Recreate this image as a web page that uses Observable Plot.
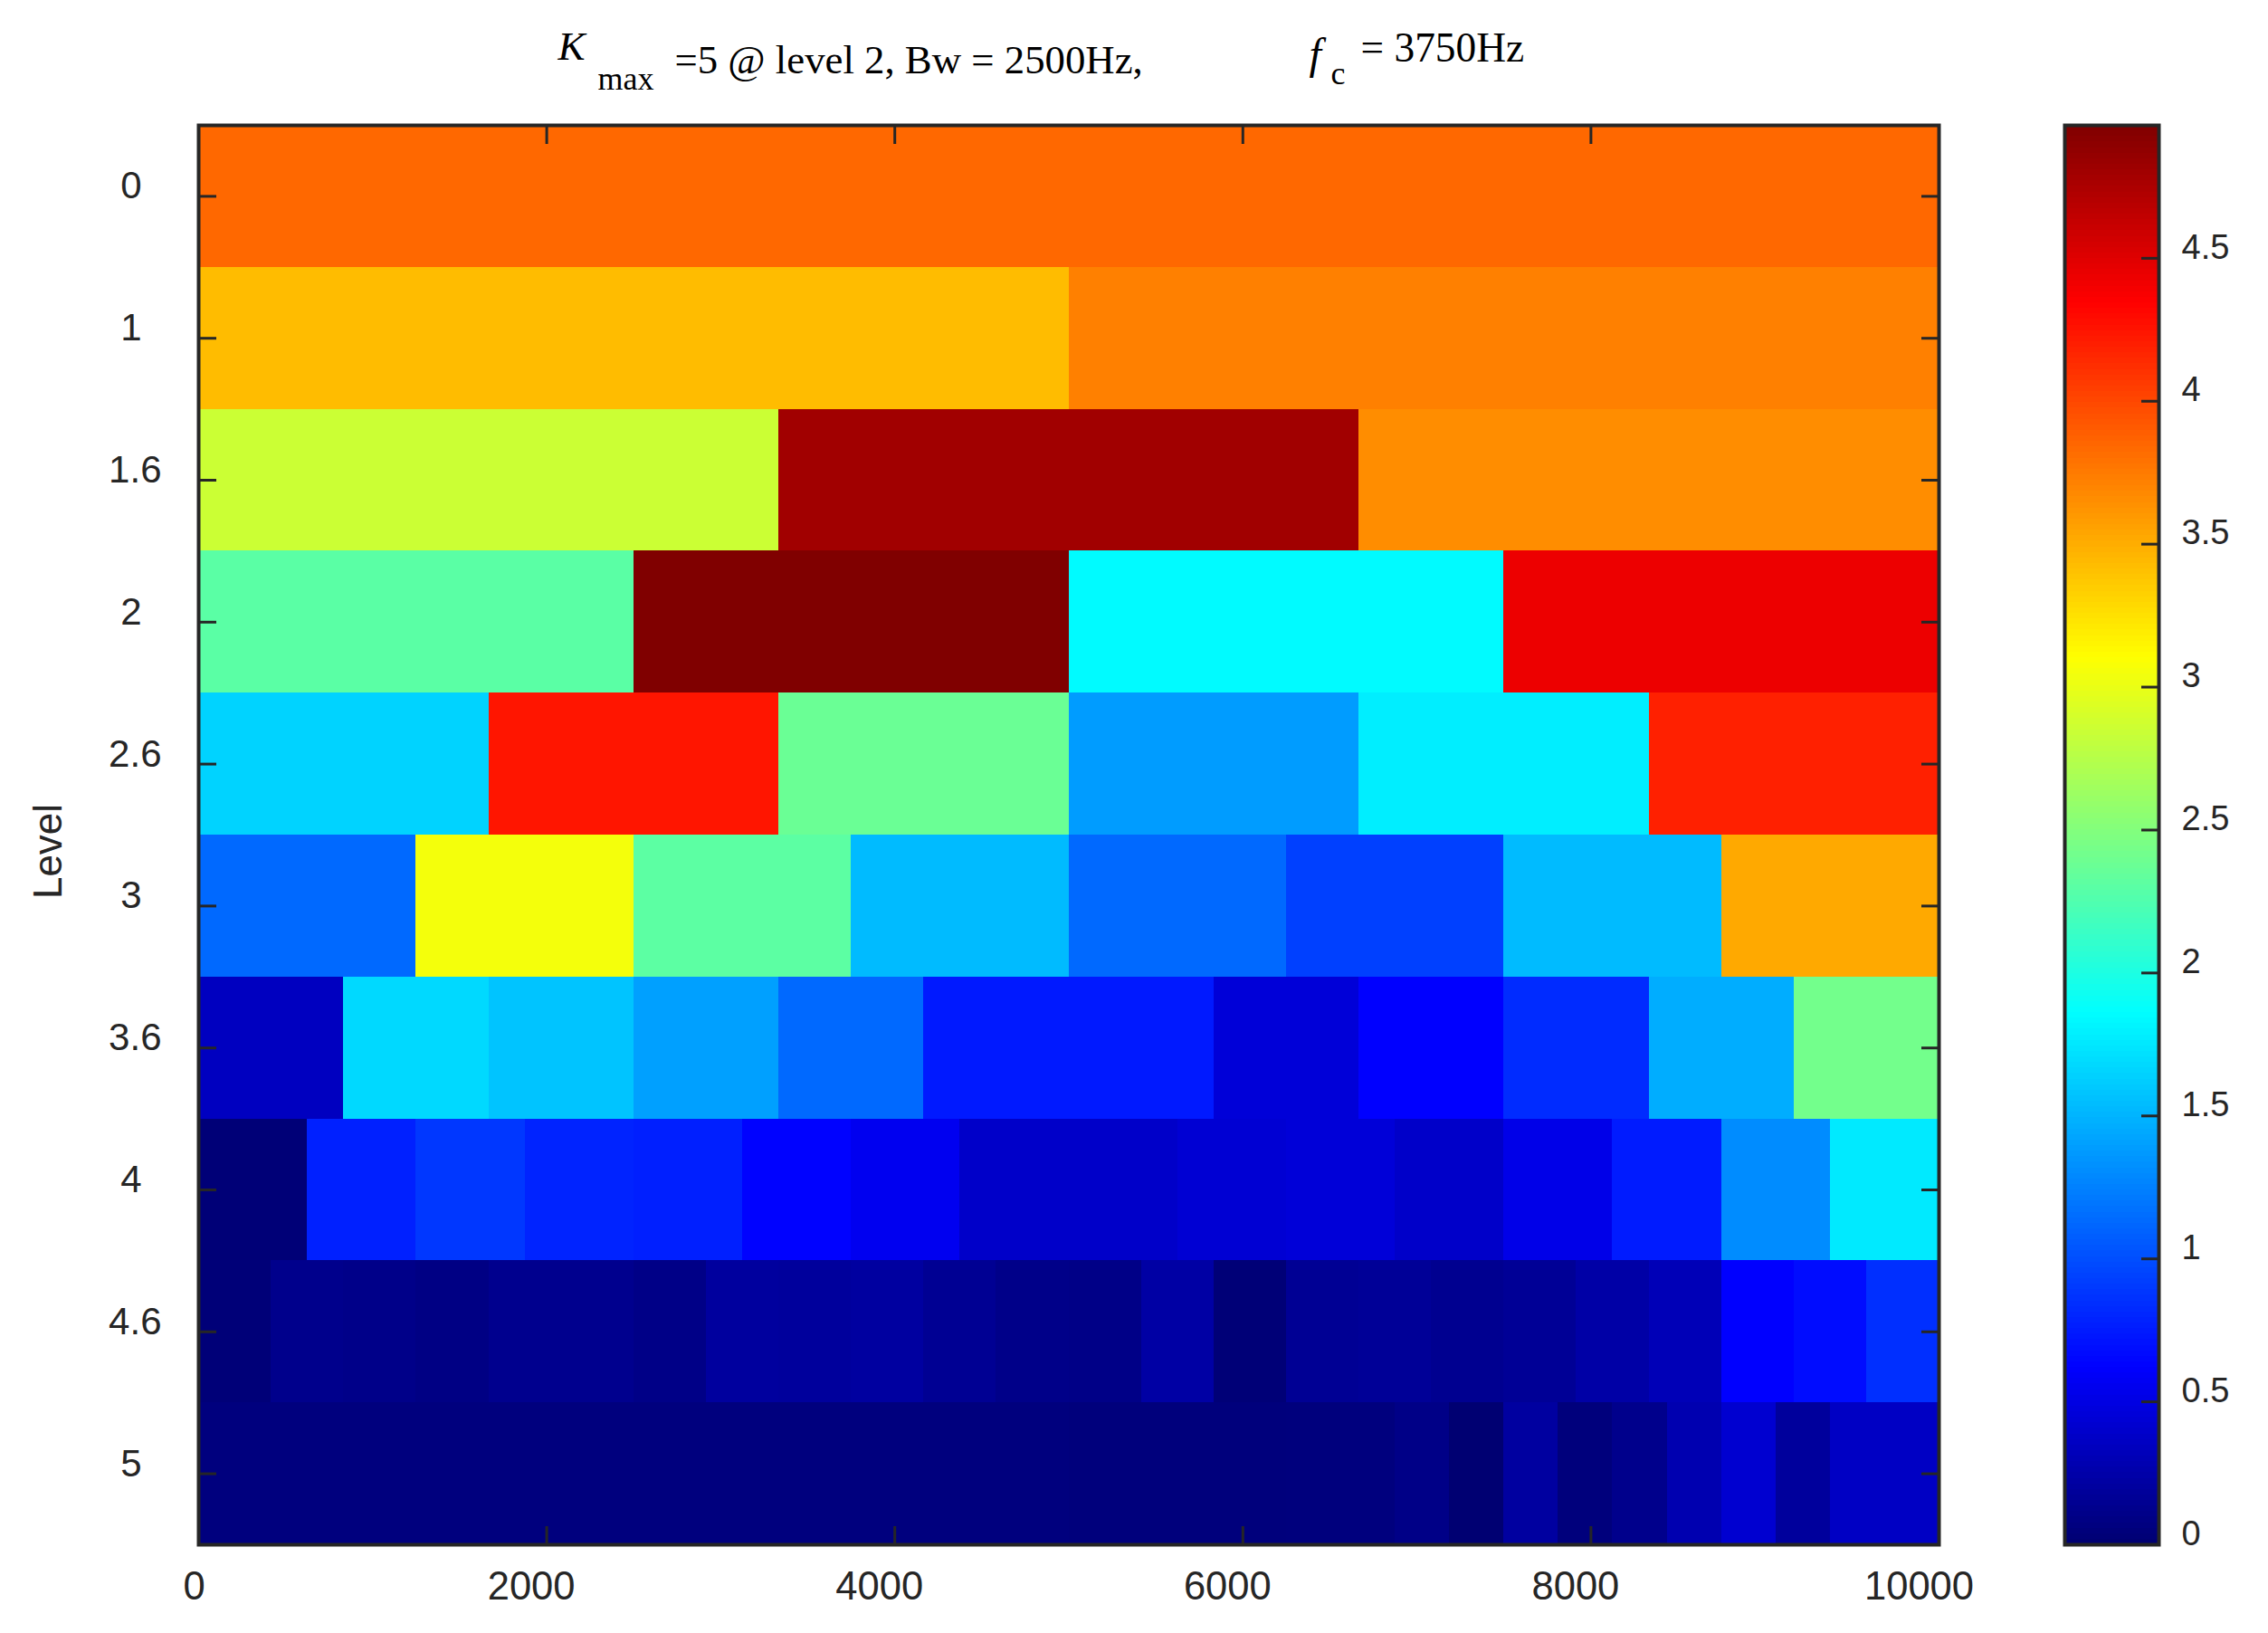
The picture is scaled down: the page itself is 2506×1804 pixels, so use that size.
<!DOCTYPE html>
<html>
<head>
<meta charset="utf-8">
<script src="https://cdn.jsdelivr.net/npm/d3@7"></script>
<script src="https://cdn.jsdelivr.net/npm/@observablehq/plot@0.6"></script>
<style>
html,body{margin:0;padding:0;background:#fff;}
#wrap{position:relative;width:2506px;height:1804px;overflow:hidden;}
#wrap svg{position:absolute;top:0;}
</style>
</head>
<body>
<div id="wrap"></div>
<script>
const levels = ["0","1","1.6","2","2.6","3","3.6","4","4.6","5"];
const level0 = [3.84];
const level1 = [3.43, 3.72];
const level16 = [2.85, 4.80, 3.66];
const level2 = [2.30, 4.96, 1.84, 4.43];
const level26 = [1.65, 4.24, 2.38, 1.38, 1.78, 4.19];
const level3 = [1.13, 3.05, 2.31, 1.53, 1.13, 0.93, 1.53, 3.52];
const level36 = [0.347, 1.675, 1.575, 1.40, 1.13, 0.74, 0.74, 0.45, 0.62, 0.83, 1.465, 2.42];
const level4 = [0.03, 0.775, 0.89, 0.79, 0.77, 0.63, 0.555, 0.385, 0.385, 0.43, 0.45, 0.385, 0.52, 0.75, 1.30, 1.76];
const level46 = [0.035, 0.12, 0.11, 0.087, 0.13, 0.13, 0.10, 0.20, 0.19, 0.21, 0.15, 0.11,
                 0.10, 0.225, 0.03, 0.156, 0.17, 0.14, 0.165, 0.234, 0.31, 0.62, 0.68, 0.85];
const level5 = [0.06, 0.06, 0.06, 0.06, 0.06, 0.06, 0.06, 0.06, 0.06, 0.06, 0.06, 0.06, 0.06, 0.06, 0.06, 0.06,
                0.05, 0.05, 0.05, 0.05, 0.055, 0.06, 0.10, 0.01, 0.21, 0.05, 0.12, 0.277, 0.416, 0.19, 0.364, 0.364];
const rows = [level0, level1, level16, level2, level26, level3, level36, level4, level46, level5];

const xTicks = [2000, 4000, 6000, 8000];
const barTicks = [0, 0.5, 1, 1.5, 2, 2.5, 3, 3.5, 4, 4.5];
const vMax = 4.965;
const jetStops = [0, 0.125, 0.375, 0.625, 0.875, 1];
const jetColors = ["#000070", "#0000ff", "#00ffff", "#ffff00", "#ff0000", "#7f0000"];

const ink = "#262626";
const sans = "Liberation Sans";
const serif = "Liberation Serif";
const colorScale = {type: "linear", domain: jetStops.map(s => s * vMax), range: jetColors, interpolate: "rgb", clamp: true};

const cells = rows.flatMap((vals, r) => vals.map((v, i) => ({
  level: levels[r],
  x1: i / vals.length * 10000,
  x2: (i + 1) / vals.length * 10000,
  value: v
})));

const titleBits = [
  {t: "K", x: 616, b: 65, fs: 45, st: "italic"},
  {t: "max", x: 660, b: 98, fs: 36, st: "normal"},
  {t: "=5 @ level 2, Bw = 2500Hz,", x: 745, b: 80, fs: 44.8, st: "normal"},
  {t: "f", x: 1446, b: 75, fs: 48, st: "italic"},
  {t: "c", x: 1470, b: 92, fs: 36, st: "normal"},
  {t: "= 3750Hz", x: 1503, b: 67, fs: 45.4, st: "normal"}
];
const ML = 219, MT = 138;
const titleMarks = titleBits.map(b => Plot.text([b.t], {
  frameAnchor: "top-left", textAnchor: "start", lineAnchor: "bottom",
  dx: b.x - ML, dy: b.b - MT,
  fontFamily: serif, fontSize: b.fs, fontStyle: b.st, fill: "#000"
}));

const blank = () => "";
const main = Plot.plot({
  width: 2506, height: 1804,
  marginLeft: ML, marginRight: 364, marginTop: MT, marginBottom: 98,
  style: {background: "transparent", fontFamily: sans},
  x: {domain: [0, 10000]},
  y: {type: "band", domain: levels, padding: 0, round: false},
  color: colorScale,
  marks: [
    Plot.barX(cells, {x1: "x1", x2: "x2", y: "level", fill: "value", inset: 0, shapeRendering: "crispEdges"}),
    Plot.axisX({anchor: "bottom", ticks: xTicks, tickSize: -20, tickFormat: blank, label: null, stroke: ink, strokeWidth: 3}),
    Plot.axisX({anchor: "top", ticks: xTicks, tickSize: -20, tickFormat: blank, label: null, stroke: ink, strokeWidth: 3}),
    Plot.axisX({anchor: "bottom", ticks: xTicks, tickSize: 0, tickPadding: 30, dx: -17, label: null, fontSize: 43.5, fill: ink, tickFormat: d => String(d)}),
    Plot.axisX({anchor: "bottom", ticks: [0], tickSize: 0, tickPadding: 30, dx: -5, label: null, fontSize: 43.5, fill: ink, tickFormat: d => String(d)}),
    Plot.axisX({anchor: "bottom", ticks: [10000], tickSize: 0, tickPadding: 30, dx: -22, label: null, fontSize: 43.5, fill: ink, tickFormat: d => String(d)}),
    Plot.axisY({anchor: "left", tickSize: -20, tickFormat: blank, label: null, stroke: ink, strokeWidth: 3}),
    Plot.axisY({anchor: "right", tickSize: -20, tickFormat: blank, label: null, stroke: ink, strokeWidth: 3}),
    Plot.axisY({anchor: "left", ticks: levels.filter(l => l.length === 1), tickSize: 0, tickPadding: 63, dy: -11, label: null, fontSize: 42, fill: ink}),
    Plot.axisY({anchor: "left", ticks: levels.filter(l => l.length > 1), tickSize: 0, tickPadding: 41, dy: -11, label: null, fontSize: 42, fill: ink}),
    Plot.text(["Level"], {frameAnchor: "top-left", textAnchor: "middle", lineAnchor: "bottom", rotate: -90,
      dx: 67 - ML, dy: 940 - MT, fontFamily: sans, fontSize: 44, fill: ink}),
    ...titleMarks,
    Plot.frame({stroke: ink, strokeWidth: 4})
  ]
});
main.style.left = "0px";
document.getElementById("wrap").appendChild(main);

const BAR_LEFT = 2206;
const nBands = 256;
const bands = d3.range(nBands).map(i => ({y1: i / nBands * vMax, y2: (i + 1) / nBands * vMax, value: (i + 0.5) / nBands * vMax}));
const bar = Plot.plot({
  width: 300, height: 1804,
  marginLeft: 2281 - BAR_LEFT, marginRight: 300 - (2385 - BAR_LEFT), marginTop: MT, marginBottom: 98,
  style: {background: "transparent", fontFamily: sans},
  x: {domain: [0, 1], axis: null},
  y: {domain: [0, vMax], axis: null},
  color: colorScale,
  marks: [
    Plot.rect(bands, {x1: 0, x2: 1, y1: "y1", y2: "y2", fill: "value", shapeRendering: "crispEdges"}),
    Plot.axisY({anchor: "right", ticks: barTicks, tickSize: -20, tickFormat: blank, label: null, stroke: ink, strokeWidth: 3}),
    Plot.axisY({anchor: "right", ticks: barTicks, tickSize: 0, tickPadding: 25, dy: -12, label: null, fontSize: 38, fill: ink, textAnchor: "start", tickFormat: d => String(d)}),
    Plot.frame({stroke: ink, strokeWidth: 4})
  ]
});
bar.style.left = BAR_LEFT + "px";
document.getElementById("wrap").appendChild(bar);
</script>
</body>
</html>
